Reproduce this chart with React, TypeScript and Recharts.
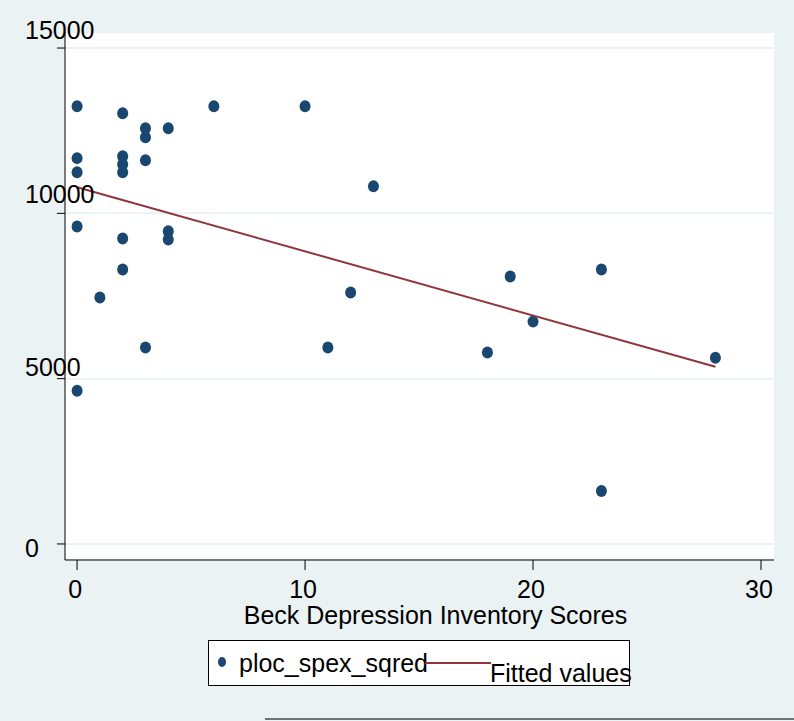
import {
  ScatterChart,
  Scatter,
  XAxis,
  YAxis,
  CartesianGrid,
  Legend,
} from "recharts";

// Beck Depression Inventory score vs ploc_spex_sqred
const bdiScores = [
  0, 2, 3, 3, 4, 6, 10, 0, 0, 2, 2, 2, 3, 13, 0, 2, 4, 4, 2, 1, 12, 3, 11, 0,
  19, 23, 20, 18, 28, 23,
];
const plocValues = [
  13240, 13030, 12575, 12300, 12575, 13240, 13240, 11670, 11240, 11730, 11485,
  11240, 11605, 10820, 9605, 9240, 9455, 9210, 8300, 7455, 7605, 5940, 5940,
  4635, 8090, 8300, 6725, 5790, 5635, 1605,
];

// fitted regression line end points
const fitX = [0, 28];
const fitY = [10790, 5360];

const xTicks = [0, 10, 20, 30];
const yTicks = [0, 5000, 10000, 15000];

const NAVY = "#1A476F";
const MAROON = "#90353B";
const BG = "#EAF2F3";
const FONT = "'Liberation Sans', Arial, sans-serif";

const points = bdiScores.map((x, i) => ({ x, y: plocValues[i] }));
const fitted = fitX.map((x, i) => ({ x, y: fitY[i] }));

// Stata places y labels a little off the ticks
const yLabelShift: Record<number, number> = {
  0: 4,
  5000: -12,
  10000: -19,
  15000: -18,
};

const YTick = (props: any) => {
  const { y, payload } = props;
  return (
    <text
      x={25}
      y={y + (yLabelShift[payload.value] ?? 0)}
      dominantBaseline="central"
      textAnchor="start"
      fontSize={25}
      fontFamily={FONT}
      fill="#000"
    >
      {payload.value}
    </text>
  );
};

const XTick = (props: any) => {
  const { x, y, payload } = props;
  return (
    <text
      x={x - 2}
      y={y + 17}
      dominantBaseline="central"
      textAnchor="middle"
      fontSize={25}
      fontFamily={FONT}
      fill="#000"
    >
      {payload.value}
    </text>
  );
};

const Dot = (props: any) => {
  const { cx, cy } = props;
  if (cx == null || cy == null) return <g />;
  return <ellipse cx={cx} cy={cy} rx={5.5} ry={6} fill={NAVY} />;
};

const LegendBox = () => (
  <div
    style={{
      width: 420,
      height: 44,
      background: "#fff",
      border: "1px solid #000",
      position: "relative",
      fontFamily: FONT,
      fontSize: 25,
      color: "#000",
    }}
  >
    <svg
      width={420}
      height={44}
      style={{ position: "absolute", left: 0, top: 0, overflow: "visible" }}
    >
      <ellipse cx={13} cy={21} rx={4} ry={5} fill={NAVY} />
      <text x={30} y={22} dominantBaseline="central" fontSize={25} fontFamily={FONT}>
        ploc_spex_sqred
      </text>
      <line x1={216} y1={22} x2={282} y2={22} stroke={MAROON} strokeWidth={2} />
      <text x={281} y={32} dominantBaseline="central" fontSize={25} fontFamily={FONT}>
        Fitted values
      </text>
    </svg>
  </div>
);

export default function App() {
  return (
    <div
      style={{
        position: "fixed",
        left: 0,
        top: 0,
        width: 794,
        height: 721,
        background: BG,
        overflow: "hidden",
      }}
    >
      <ScatterChart
        width={794}
        height={721}
        margin={{ top: 32, right: 20, bottom: 0, left: 0 }}
      >
        <CartesianGrid
          vertical={false}
          stroke={BG}
          strokeWidth={2}
          fill="#ffffff"
        />
        <XAxis
          type="number"
          dataKey="x"
          domain={[-0.53, 30.57]}
          ticks={xTicks}
          allowDataOverflow
          height={161}
          tickSize={10}
          axisLine={{ stroke: "#000", strokeWidth: 1 }}
          tickLine={{ stroke: "#000" }}
          tick={<XTick />}
          label={{
            value: "Beck Depression Inventory Scores",
            position: "insideTop",
            offset: 46,
            dx: 16,
            fontSize: 25,
            fontFamily: FONT,
            fill: "#000",
          }}
        />
        <YAxis
          type="number"
          dataKey="y"
          domain={[-485, 15485]}
          ticks={yTicks}
          allowDataOverflow
          width={65}
          tickSize={8}
          axisLine={{ stroke: "#000", strokeWidth: 1 }}
          tickLine={{ stroke: "#000" }}
          tick={<YTick />}
        />
        <Legend
          layout="horizontal"
          verticalAlign="middle"
          align="center"
          content={<LegendBox />}
          wrapperStyle={{ position: "absolute", left: 208, top: 640, width: 422 }}
        />
        <Scatter
          name="ploc_spex_sqred"
          data={points}
          shape={<Dot />}
          isAnimationActive={false}
        />
        <Scatter
          name="Fitted values"
          data={fitted}
          line={{ stroke: MAROON, strokeWidth: 2 }}
          shape={() => <g />}
          isAnimationActive={false}
        />
      </ScatterChart>
      <div
        style={{
          position: "absolute",
          left: 265,
          top: 718,
          width: 529,
          height: 2,
          background: "#6f7374",
        }}
      />
    </div>
  );
}
